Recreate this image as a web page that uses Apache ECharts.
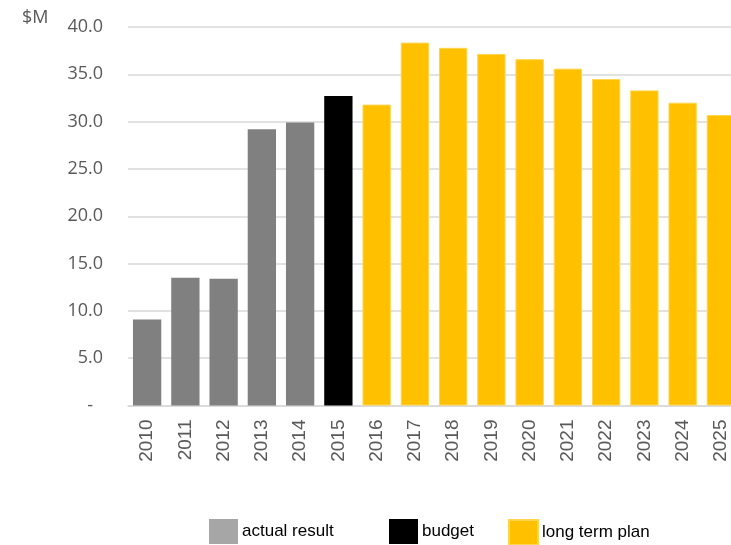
<!DOCTYPE html>
<html>
<head>
<meta charset="utf-8">
<script src="https://cdn.jsdelivr.net/npm/echarts@6/dist/echarts.min.js"></script>
<style>
  html, body { margin: 0; padding: 0; background: #fff; }
  #chart { width: 731px; height: 545px; }
</style>
</head>
<body>
<div id="chart"></div>
<script>
// Annual totals in $M, split by source of the figure
const years = ['2010','2011','2012','2013','2014','2015','2016','2017','2018','2019','2020','2021','2022','2023','2024','2025'];
const actualResult = [9.1, 13.5, 13.4, 29.2, 29.9, null, null, null, null, null, null, null, null, null, null, null];
const budget       = [null, null, null, null, null, 32.7, null, null, null, null, null, null, null, null, null, null];
const longTermPlan = [null, null, null, null, null, null, 31.8, 38.35, 37.8, 37.15, 36.6, 35.6, 34.5, 33.3, 32.0, 30.7];
const seriesNames = ['actual result', 'budget', 'long term plan'];

const chart = echarts.init(document.getElementById('chart'), null, { renderer: 'canvas' });

const labelGray = '#595959';
const legendFont = { fontFamily: '"Liberation Sans Narrow", "Liberation Sans", Arial, sans-serif', fontSize: 17, color: '#000' };

function legendAt(name, left, color) {
  return {
    left: left, top: 519,
    itemWidth: 29, itemHeight: 25, itemGap: 0,
    icon: 'rect',
    padding: 0,
    textStyle: Object.assign({ padding: [0, 0, 0, -1] }, legendFont),
    data: [{ name: name, itemStyle: { color: color } }],
    selectedMode: false
  };
}

chart.setOption({
  animation: false,
  backgroundColor: '#fff',
  grid: { left: 128, top: 27, width: 612, height: 378.5, containLabel: false, outerBoundsMode: 'none' },
  graphic: [{
    type: 'text', left: 22, top: 9,
    style: { text: '$M', fontFamily: '"Open Sans", sans-serif', fontSize: 18, fill: labelGray }
  }],
  legend: [
    legendAt(seriesNames[0], 209, '#A6A6A6'),
    legendAt(seriesNames[1], 389, '#000000'),
    legendAt(seriesNames[2], 508, '#FFC000')
  ],
  xAxis: {
    type: 'category',
    data: years,
    axisLine: { lineStyle: { color: '#D9D9D9', width: 1.5 } },
    axisTick: { show: false },
    axisLabel: {
      rotate: 90, interval: 0, margin: 14,
      fontFamily: '"Liberation Sans", Arial, sans-serif', fontSize: 19, color: labelGray
    }
  },
  yAxis: {
    type: 'value',
    min: 0, max: 40, interval: 5,
    axisLine: { show: false },
    axisTick: { show: false },
    splitLine: { lineStyle: { color: '#D9D9D9', width: 1.5 } },
    axisLabel: {
      margin: 25,
      fontFamily: '"Open Sans", sans-serif', fontSize: 18, color: labelGray,
      formatter: function (v) { return v === 0 ? '{d|-}' : v.toFixed(1); },
      rich: { d: { fontFamily: '"Open Sans", sans-serif', fontSize: 18, color: labelGray, padding: [0, 10, 0, 0] } }
    }
  },
  series: [
    { name: seriesNames[0], type: 'bar', stack: 'all', data: actualResult, barCategoryGap: '26%',
      itemStyle: { color: '#808080' } },
    { name: seriesNames[1], type: 'bar', stack: 'all', data: budget, barCategoryGap: '26%',
      itemStyle: { color: '#000000' } },
    { name: seriesNames[2], type: 'bar', stack: 'all', data: longTermPlan, barCategoryGap: '26%',
      itemStyle: { color: '#FFC000', borderColor: '#FFD54F', borderWidth: 1 } }
  ]
});
</script>
</body>
</html>
